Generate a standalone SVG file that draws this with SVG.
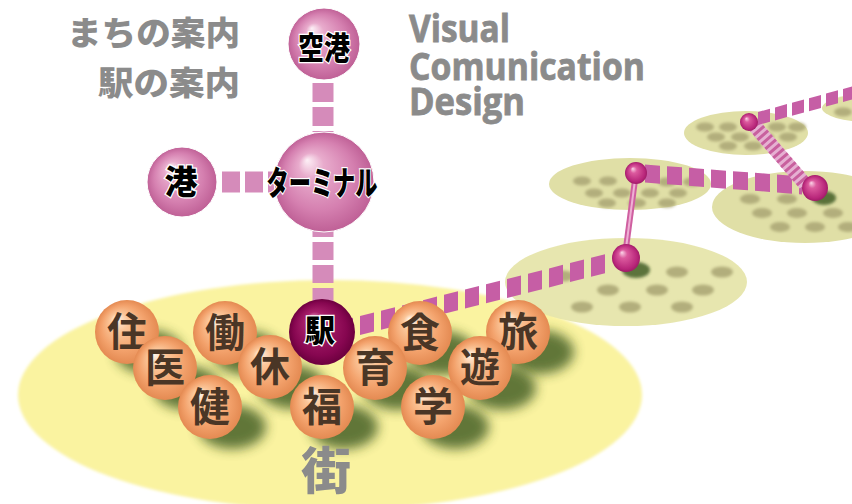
<svg xmlns="http://www.w3.org/2000/svg" width="852" height="504" viewBox="0 0 852 504">
  <defs>
    <radialGradient id="gPink" cx="0.5" cy="0.5" r="0.5" fx="0.33" fy="0.28">
      <stop offset="0" stop-color="#fdf0f6"/>
      <stop offset="0.25" stop-color="#e8abcc"/>
      <stop offset="0.7" stop-color="#d580b0"/>
      <stop offset="1" stop-color="#bf6096"/>
    </radialGradient>
    <radialGradient id="gDark" cx="0.5" cy="0.5" r="0.5" fx="0.35" fy="0.28">
      <stop offset="0" stop-color="#e592bd"/>
      <stop offset="0.3" stop-color="#a8206a"/>
      <stop offset="0.8" stop-color="#860650"/>
      <stop offset="1" stop-color="#6c003e"/>
    </radialGradient>
    <radialGradient id="gMag" cx="0.5" cy="0.5" r="0.5" fx="0.35" fy="0.3">
      <stop offset="0" stop-color="#fbd6e8"/>
      <stop offset="0.3" stop-color="#dc5a9e"/>
      <stop offset="0.85" stop-color="#b8267a"/>
      <stop offset="1" stop-color="#a01c68"/>
    </radialGradient>
    <radialGradient id="gOrange" cx="0.5" cy="0.5" r="0.5" fx="0.33" fy="0.28">
      <stop offset="0" stop-color="#fff6ec"/>
      <stop offset="0.28" stop-color="#fbc699"/>
      <stop offset="0.7" stop-color="#f3a26c"/>
      <stop offset="1" stop-color="#e48a52"/>
    </radialGradient>
    <filter id="fShadow" x="-60%" y="-60%" width="220%" height="220%">
      <feGaussianBlur stdDeviation="6"/>
    </filter>
    <filter id="fSoft" x="-5%" y="-5%" width="110%" height="110%">
      <feGaussianBlur stdDeviation="1.5"/>
    </filter>
    <filter id="fDot" x="-50%" y="-50%" width="200%" height="200%">
      <feGaussianBlur stdDeviation="1.8"/>
    </filter>
    <style>
      .ttl { font-family: "Noto Sans CJK JP", sans-serif; font-weight: 900; fill: #8b8b8b; font-size: 33px; }
      .en { font-family: "Open Sans", "Liberation Sans", sans-serif; font-weight: 700; fill: #8b8b8b; font-size: 37px; stroke: #8b8b8b; stroke-width: 0.8px; }
      .kj { font-family: "Noto Sans CJK JP", sans-serif; font-weight: 700; fill: #4a3626; font-size: 40px; text-anchor: middle; }
      .lb { font-family: "Noto Sans CJK JP", sans-serif; font-weight: 900; fill: #000; stroke: #fff; stroke-width: 2.5px; paint-order: stroke; text-anchor: middle; }
      .dot { fill: #b2ae7c; filter: url(#fDot); }
      .shadow { fill: #2e4d18; opacity: 0.75; filter: url(#fShadow); }
      .orb { fill: url(#gOrange); }
      .pink { fill: url(#gPink); stroke: #fff; stroke-width: 1; }
      .mag { fill: url(#gMag); }
      .band { fill: none; stroke: #d58bba; }
      .chain { fill: none; stroke: #c65ea5; }
    </style>
  </defs>

  <rect width="852" height="504" fill="#fff"/>

  <!-- ground planes -->
  <g id="ground">
    <ellipse cx="330" cy="395" rx="312" ry="115" fill="#faf3a0" filter="url(#fSoft)"/>
    <ellipse cx="870" cy="108" rx="48" ry="14" fill="#e0dfa6"/>
    <ellipse cx="746" cy="133" rx="62" ry="22" fill="#e0dfa6"/>
    <ellipse cx="805" cy="207" rx="93" ry="36" fill="#e0dfa6"/>
    <ellipse cx="630" cy="184" rx="81" ry="26" fill="#e0dfa6"/>
    <ellipse cx="626" cy="282" rx="121" ry="44" fill="#e6e5ab" opacity="0.95"/>
  </g>

  <!-- dot patterns on the small planes -->
  <g id="dots">
    <ellipse class="dot" cx="843" cy="112" rx="9" ry="4.5"/>
    <ellipse class="dot" cx="705" cy="127" rx="9" ry="4.5"/>
    <ellipse class="dot" cx="728" cy="127" rx="9" ry="4.5"/>
    <ellipse class="dot" cx="777" cy="127" rx="9" ry="4.5"/>
    <ellipse class="dot" cx="797" cy="127" rx="9" ry="4.5"/>
    <ellipse class="dot" cx="716" cy="137" rx="9" ry="4.5"/>
    <ellipse class="dot" cx="740" cy="137" rx="9" ry="4.5"/>
    <ellipse class="dot" cx="765" cy="137" rx="9" ry="4.5"/>
    <ellipse class="dot" cx="788" cy="137" rx="9" ry="4.5"/>
    <ellipse class="dot" cx="728" cy="146" rx="9" ry="4.5"/>
    <ellipse class="dot" cx="753" cy="146" rx="9" ry="4.5"/>

    <ellipse class="dot" cx="750" cy="199" rx="10" ry="5"/>
    <ellipse class="dot" cx="787" cy="199" rx="10" ry="5"/>
    <ellipse class="dot" cx="762" cy="213" rx="10" ry="5"/>
    <ellipse class="dot" cx="797" cy="213" rx="10" ry="5"/>
    <ellipse class="dot" cx="833" cy="213" rx="10" ry="5"/>
    <ellipse class="dot" cx="780" cy="227" rx="10" ry="5"/>
    <ellipse class="dot" cx="815" cy="227" rx="10" ry="5"/>
    <ellipse class="dot" cx="848" cy="227" rx="10" ry="5"/>

    <ellipse class="dot" cx="582" cy="181" rx="9" ry="4.5"/>
    <ellipse class="dot" cx="608" cy="181" rx="9" ry="4.5"/>
    <ellipse class="dot" cx="667" cy="182" rx="9" ry="4.5"/>
    <ellipse class="dot" cx="692" cy="182" rx="9" ry="4.5"/>
    <ellipse class="dot" cx="594" cy="193" rx="9" ry="4.5"/>
    <ellipse class="dot" cx="622" cy="193" rx="9" ry="4.5"/>
    <ellipse class="dot" cx="650" cy="193" rx="9" ry="4.5"/>
    <ellipse class="dot" cx="678" cy="193" rx="9" ry="4.5"/>
    <ellipse class="dot" cx="607" cy="203" rx="9" ry="4.5"/>
    <ellipse class="dot" cx="637" cy="203" rx="9" ry="4.5"/>
    <ellipse class="dot" cx="667" cy="203" rx="9" ry="4.5"/>

    <ellipse class="dot" cx="563" cy="276" rx="11" ry="5.5"/>
    <ellipse class="dot" cx="677" cy="272" rx="11" ry="5.5"/>
    <ellipse class="dot" cx="722" cy="272" rx="11" ry="5.5"/>
    <ellipse class="dot" cx="608" cy="290" rx="11" ry="5.5"/>
    <ellipse class="dot" cx="657" cy="290" rx="11" ry="5.5"/>
    <ellipse class="dot" cx="703" cy="290" rx="11" ry="5.5"/>
    <ellipse class="dot" cx="582" cy="307" rx="11" ry="5.5"/>
    <ellipse class="dot" cx="630" cy="307" rx="11" ry="5.5"/>
    <ellipse class="dot" cx="682" cy="307" rx="11" ry="5.5"/>
  </g>

  <!-- titles -->
  <g id="titles">
    <text class="ttl" x="67" y="45" textLength="173" lengthAdjust="spacingAndGlyphs">まちの案内</text>
    <text class="ttl" x="98" y="95" textLength="142" lengthAdjust="spacingAndGlyphs">駅の案内</text>
    <text class="en" x="409" y="42" textLength="101" lengthAdjust="spacingAndGlyphs">Visual</text>
    <text class="en" x="409" y="80" textLength="236" lengthAdjust="spacingAndGlyphs">Comunication</text>
    <text class="en" x="409" y="115" textLength="116" lengthAdjust="spacingAndGlyphs">Design</text>
  </g>

  <!-- cast shadows of the spheres -->
  <g id="shadows">
    <ellipse class="shadow" cx="149" cy="352" rx="34" ry="22"/>
    <ellipse class="shadow" cx="247" cy="353" rx="34" ry="22"/>
    <ellipse class="shadow" cx="442" cy="353" rx="34" ry="22"/>
    <ellipse class="shadow" cx="540" cy="352" rx="34" ry="22"/>
    <ellipse class="shadow" cx="187" cy="388" rx="34" ry="22"/>
    <ellipse class="shadow" cx="292" cy="387" rx="34" ry="22"/>
    <ellipse class="shadow" cx="397" cy="388" rx="34" ry="22"/>
    <ellipse class="shadow" cx="502" cy="388" rx="34" ry="22"/>
    <ellipse class="shadow" cx="232" cy="427" rx="34" ry="22"/>
    <ellipse class="shadow" cx="344" cy="427" rx="34" ry="22"/>
    <ellipse class="shadow" cx="455" cy="427" rx="34" ry="22"/>
    <ellipse class="shadow" cx="636" cy="270" rx="14" ry="8" style="filter:url(#fDot)"/>
    <ellipse class="shadow" cx="824" cy="198" rx="12" ry="7" style="filter:url(#fDot)" opacity="0.4"/>
  </g>

  <!-- connectors -->
  <g id="connectors">
    <line class="band" x1="323" y1="83" x2="323" y2="132" stroke-width="21" stroke-dasharray="19 5"/>
    <line class="band" x1="222" y1="182" x2="280" y2="182" stroke-width="21" stroke-dasharray="18 5"/>
    <line class="band" x1="323" y1="219" x2="323" y2="305" stroke-width="21" stroke-dasharray="18 5"/>
    <g transform="translate(339,330.8) skewY(-14.14)">
      <line class="chain" x1="0" y1="0" x2="267" y2="0" stroke-width="19" stroke-dasharray="14 7"/>
    </g>
    <line x1="626" y1="248" x2="635" y2="180" stroke="#cf5fa0" stroke-width="6"/>
    <line x1="626" y1="248" x2="635" y2="180" stroke="#eeb0d4" stroke-width="2"/>
    <g transform="translate(645,173.5) skewY(4.33)">
      <line class="chain" x1="0" y1="0" x2="157" y2="0" stroke-width="18" stroke-dasharray="15 7"/>
    </g>
    <line x1="754" y1="125" x2="805" y2="184" stroke="#e6b0d2" stroke-width="14"/>
    <line x1="754" y1="125" x2="805" y2="184" stroke="#c8609e" stroke-width="14" stroke-dasharray="3 3"/>
    <g transform="translate(758,118.5) skewY(-15.2)">
      <line class="chain" x1="0" y1="0" x2="100" y2="0" stroke-width="13" stroke-dasharray="12 5"/>
    </g>
  </g>

  <!-- nodes of the network -->
  <g id="node-airport">
    <circle class="pink" cx="324" cy="44" r="36"/>
    <text class="lb" x="324" y="59" font-size="31" textLength="52" lengthAdjust="spacingAndGlyphs">空港</text>
  </g>
  <g id="node-port">
    <circle class="pink" cx="182" cy="182" r="35"/>
    <text class="lb" x="181" y="194" font-size="33">港</text>
  </g>
  <g id="node-terminal">
    <circle class="pink" cx="324" cy="182" r="50"/>
    <text class="lb" x="322" y="195" font-size="33" textLength="111" lengthAdjust="spacingAndGlyphs">ターミナル</text>
  </g>

  <g id="node-a"><circle class="mag" cx="626" cy="258" r="14"/></g>
  <g id="node-b"><circle class="mag" cx="636" cy="173" r="11"/></g>
  <g id="node-c"><circle class="mag" cx="815" cy="188" r="13"/></g>
  <g id="node-d"><circle class="mag" cx="749" cy="122" r="9"/></g>

  <g id="node-sumu"><circle class="orb" cx="127" cy="332" r="32"/><text class="kj" x="127" y="346">住</text></g>
  <g id="node-hataraku"><circle class="orb" cx="225" cy="333" r="32"/><text class="kj" x="225" y="347">働</text></g>
  <g id="node-shoku"><circle class="orb" cx="420" cy="333" r="32"/><text class="kj" x="420" y="347">食</text></g>
  <g id="node-tabi"><circle class="orb" cx="518" cy="332" r="32"/><text class="kj" x="518" y="346">旅</text></g>
  <g id="node-i"><circle class="orb" cx="165" cy="368" r="32"/><text class="kj" x="165" y="382">医</text></g>
  <g id="node-kyu"><circle class="orb" cx="270" cy="367" r="32"/><text class="kj" x="270" y="381">休</text></g>
  <g id="node-iku"><circle class="orb" cx="375" cy="368" r="32"/><text class="kj" x="375" y="382">育</text></g>
  <g id="node-asobu"><circle class="orb" cx="480" cy="368" r="32"/><text class="kj" x="480" y="382">遊</text></g>

  <g id="node-station">
    <circle cx="322" cy="332" r="33" fill="url(#gDark)"/>
    <text class="lb" x="320" y="341" font-size="30">駅</text>
  </g>

  <g id="node-ken"><circle class="orb" cx="210" cy="407" r="32"/><text class="kj" x="210" y="421">健</text></g>
  <g id="node-fuku"><circle class="orb" cx="322" cy="407" r="32"/><text class="kj" x="322" y="421">福</text></g>
  <g id="node-gaku"><circle class="orb" cx="433" cy="407" r="32"/><text class="kj" x="433" y="421">学</text></g>

  <text x="326" y="489" text-anchor="middle" font-family="Noto Sans CJK JP, sans-serif" font-weight="900" font-size="50" fill="#8b8b8b">街</text>
</svg>
